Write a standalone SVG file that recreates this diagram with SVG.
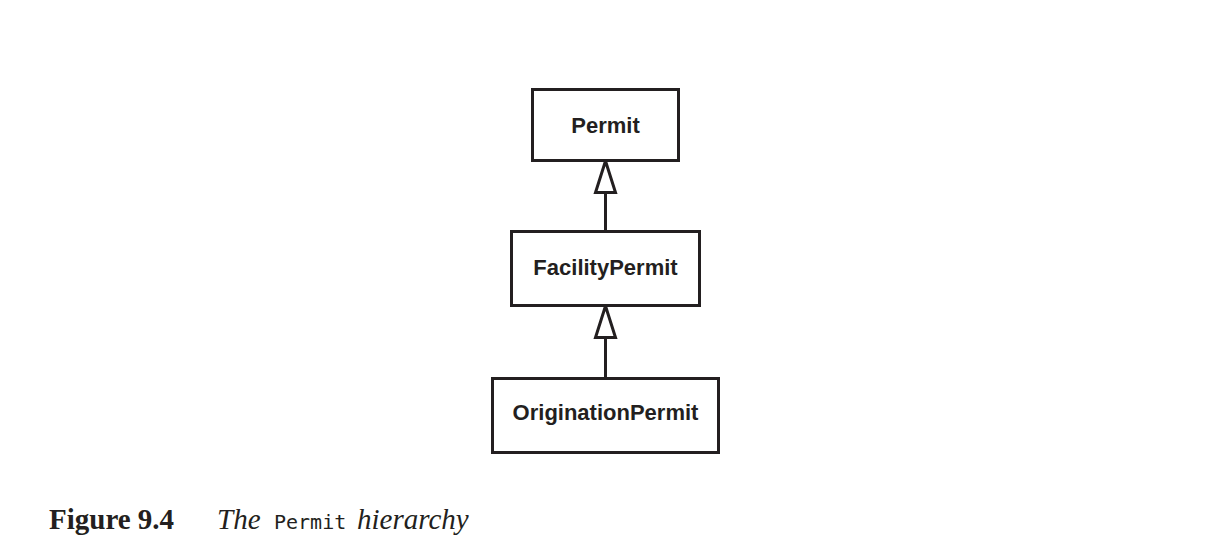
<svg xmlns="http://www.w3.org/2000/svg" width="1210" height="554" viewBox="0 0 1210 554">
<style>
.box{fill:#fff;stroke:#231f20;stroke-width:3}
.lbl{font-family:"Liberation Sans",Arial,sans-serif;font-weight:bold;font-size:22px;fill:#231f20;text-anchor:middle}
.conn{stroke:#231f20;stroke-width:3;fill:none}
.cap{font-family:"Liberation Serif","Times New Roman",serif;font-size:29px;fill:#231f20}
</style>
<defs>
<marker id="gen" markerUnits="userSpaceOnUse" markerWidth="40" markerHeight="28" refX="35" refY="14" orient="auto" viewBox="0 0 40 28">
<path d="M35,14 L3.5,4 L3.5,24 Z" fill="#fff" stroke="#231f20" stroke-width="3" stroke-linejoin="miter"/>
</marker>
</defs>
<rect width="1210" height="554" fill="#fff"/>
<g id="connectors">
<line class="conn" x1="605.5" y1="231" x2="605.5" y2="161" marker-end="url(#gen)"/>
<line class="conn" x1="605.5" y1="378" x2="605.5" y2="306" marker-end="url(#gen)"/>
</g>
<g id="Permit">
<rect class="box" x="532.5" y="89.5" width="146" height="71"/>
<text class="lbl" x="605.5" y="133">Permit</text>
</g>
<g id="FacilityPermit">
<rect class="box" x="511.5" y="231.5" width="188" height="74"/>
<text class="lbl" x="605.5" y="275">FacilityPermit</text>
</g>
<g id="OriginationPermit">
<rect class="box" x="492.5" y="378.5" width="226" height="74"/>
<text class="lbl" x="605.5" y="420">OriginationPermit</text>
</g>
<g id="caption">
<text class="cap" x="49" y="529" font-weight="bold">Figure 9.4</text>
<text class="cap" x="217" y="529" font-style="italic">The</text>
<text x="274" y="529" font-family="'DejaVu Sans Mono','Liberation Mono',monospace" font-size="20" fill="#231f20">Permit</text>
<text class="cap" x="357" y="529" font-style="italic">hierarchy</text>
</g>
</svg>
